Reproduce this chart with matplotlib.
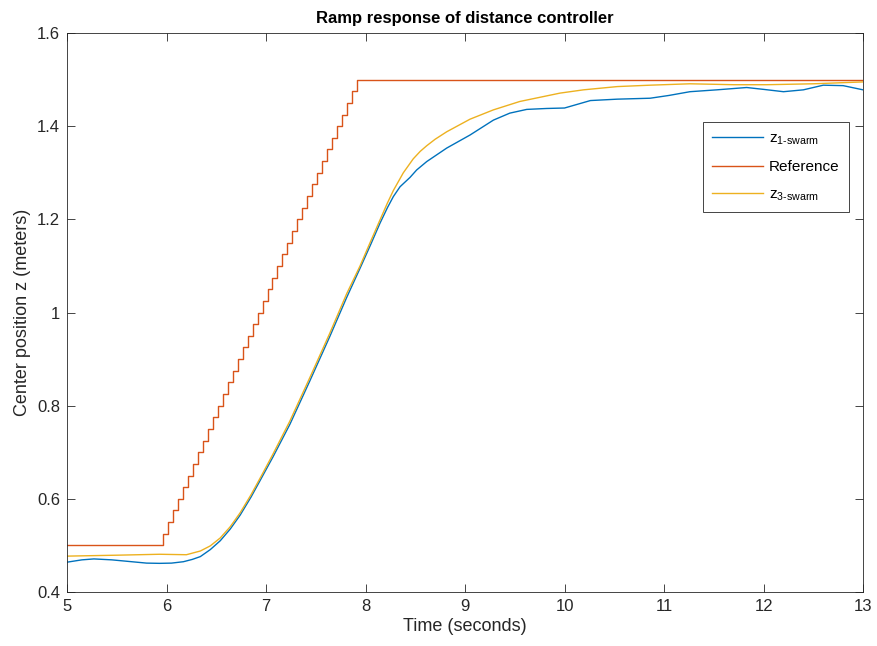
import numpy as np
import matplotlib

matplotlib.use("Agg")

import matplotlib.pyplot as plt  # noqa: E402
from matplotlib.ticker import FormatStrFormatter  # noqa: E402

# --- data --------------------------------------------------------------------
t_z1 = [5.0, 5.15, 5.27, 5.45, 5.6, 5.8, 5.93, 6.05, 6.17, 6.26, 6.34, 6.44,
        6.54, 6.64, 6.74, 6.85, 6.95, 7.07, 7.24, 7.44, 7.64, 7.81, 7.945,
        8.05, 8.146, 8.22, 8.28, 8.347, 8.447, 8.514, 8.615, 8.816, 9.05,
        9.285, 9.45, 9.62, 9.82, 10.0, 10.26, 10.53, 10.86, 11.05, 11.26,
        11.53, 11.83, 12.0, 12.2, 12.4, 12.6, 12.8, 13.0]
z1 = [0.464, 0.469, 0.471, 0.469, 0.466, 0.462, 0.4615, 0.462, 0.465, 0.470,
      0.476, 0.491, 0.510, 0.535, 0.565, 0.604, 0.643, 0.690, 0.760, 0.853,
      0.948, 1.032, 1.095, 1.145, 1.192, 1.225, 1.249, 1.270, 1.290, 1.306,
      1.324, 1.353, 1.381, 1.413, 1.428, 1.436, 1.438, 1.439, 1.455, 1.458,
      1.460, 1.466, 1.474, 1.478, 1.483, 1.479, 1.474, 1.478, 1.488, 1.487,
      1.478]

t_z3 = [5.0, 5.5, 5.93, 6.2, 6.34, 6.44, 6.54, 6.64, 6.74, 6.85, 6.95, 7.07,
        7.24, 7.44, 7.64, 7.81, 7.945, 8.05, 8.146, 8.22, 8.28, 8.38, 8.48,
        8.55, 8.615, 8.7, 8.816, 9.05, 9.285, 9.55, 9.955, 10.19, 10.53,
        10.86, 11.26, 11.7, 12.03, 12.5, 13.0]
z3 = [0.477, 0.479, 0.481, 0.480, 0.488, 0.499, 0.516, 0.540, 0.570, 0.609,
      0.648, 0.696, 0.767, 0.860, 0.955, 1.040, 1.100, 1.152, 1.199, 1.235,
      1.262, 1.300, 1.330, 1.346, 1.358, 1.372, 1.388, 1.415, 1.435, 1.453,
      1.471, 1.478, 1.485, 1.488, 1.491, 1.489, 1.489, 1.491, 1.495]

# quantised ramp reference: 40 steps of 0.025 m, 0.05 s apart
ref_start, ref_end = 0.5, 1.5
ref_first_step, ref_last_step = 5.965, 7.915
ref_n_steps = 40
ref_t = np.concatenate([[5.0], np.linspace(ref_first_step, ref_last_step, ref_n_steps), [13.0]])
ref_z = np.concatenate([[ref_start], np.linspace(ref_start, ref_end, ref_n_steps + 1)[1:], [ref_end]])

labels = [r"z$_{\mathregular{1\text{-}swarm}}$", "Reference",
          r"z$_{\mathregular{3\text{-}swarm}}$"]
colors = ["#0072BD", "#D95319", "#EDB120"]

# --- figure --------------------------------------------------------------------
plt.rcParams["font.family"] = ["Liberation Sans", "DejaVu Sans"]
plt.rcParams["mathtext.fontset"] = "custom"
plt.rcParams["mathtext.rm"] = "Liberation Sans"

fig = plt.figure(figsize=(8.78, 6.46), dpi=100)
ax = fig.add_axes([0.0763, 0.0836, 0.9067, 0.8653])

ax.plot(t_z1, z1, color=colors[0], lw=1.0, label=labels[0])
ax.plot(ref_t, ref_z, color=colors[1], lw=1.0, drawstyle="steps-post", label=labels[1])
ax.plot(t_z3, z3, color=colors[2], lw=1.0, label=labels[2])

ax.set_xlim(5, 13)
ax.set_ylim(0.4, 1.6)
ax.set_xticks(np.arange(5, 14, 1))
ax.set_yticks(np.arange(0.4, 1.61, 0.2))
ax.yaxis.set_major_formatter(FormatStrFormatter("%g"))
ax.tick_params(direction="in", top=True, right=True, length=6, width=0.6,
               labelsize=12, color="#262626", labelcolor="#262626", pad=5)
for s in ax.spines.values():
    s.set_linewidth(0.6)
    s.set_color("#262626")

ax.set_xlabel("Time (seconds)", fontsize=13, color="#262626", labelpad=3)
ax.set_ylabel("Center position z (meters)", fontsize=13, color="#262626", labelpad=4)
ax.set_title("Ramp response of distance controller", fontsize=12,
             fontweight="bold", pad=7)

leg = ax.legend(loc="upper left", bbox_to_anchor=(0.799, 0.840), fontsize=11,
                handlelength=3.3, handletextpad=0.4, borderpad=0.6,
                labelspacing=0.85, fancybox=False, framealpha=1,
                edgecolor="#262626", borderaxespad=0)
leg.get_frame().set_linewidth(0.6)

fig.savefig("out.png", dpi=100)
